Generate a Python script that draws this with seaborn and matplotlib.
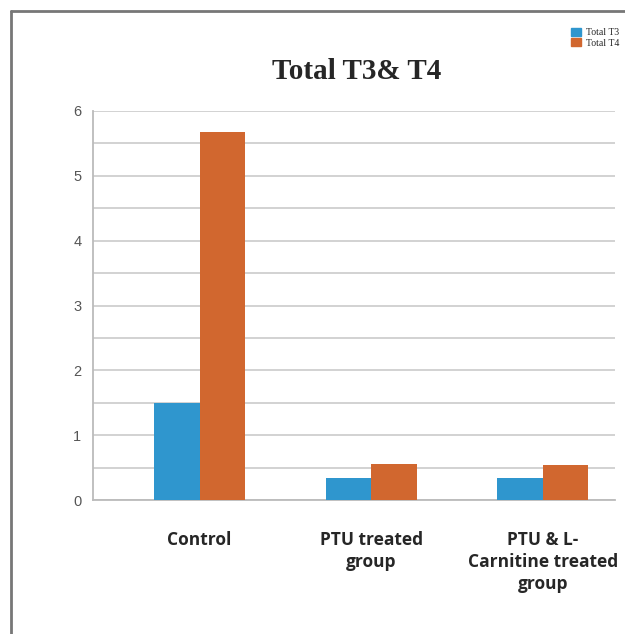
import matplotlib
matplotlib.use("Agg")
import matplotlib.pyplot as plt
import seaborn as sns
import pandas as pd
from matplotlib.lines import Line2D
from matplotlib.ticker import MultipleLocator

categories = ["Control", "PTU treated\ngroup", "PTU & L-\nCarnitine treated\ngroup"]
series_names = ["Total T3", "Total T4"]
total_t3 = [1.50, 0.34, 0.34]
total_t4 = [5.68, 0.56, 0.54]
colors = ["#2F96CE", "#D1672F"]

df = pd.DataFrame({
    "group": categories * 2,
    "series": [series_names[0]] * 3 + [series_names[1]] * 3,
    "value": total_t3 + total_t4,
})

sns.set_style("white")
fig = plt.figure(figsize=(6.25, 6.34), dpi=100)
ax = fig.add_axes([0.149, 0.211, 0.835, 0.614])

sns.barplot(data=df, x="group", y="value", hue="series", palette=colors,
            width=0.53, ax=ax, saturation=1, legend=False, zorder=3, linewidth=0)

ax.set_ylim(0, 6)
ax.set_xlim(-0.62, 2.42)
ax.yaxis.set_major_locator(MultipleLocator(1))
ax.yaxis.set_minor_locator(MultipleLocator(0.5))
ax.grid(axis="y", which="both", color="#CFCFCF", linewidth=1.3, zorder=0)
ax.set_axisbelow(True)
for s in ["top", "right"]:
    ax.spines[s].set_visible(False)
ax.spines["left"].set_color("#BBBBBB")
ax.spines["bottom"].set_color("#BBBBBB")
ax.spines["left"].set_linewidth(1.3)
ax.spines["bottom"].set_linewidth(1.3)
ax.tick_params(axis="y", which="both", length=5, color="#BBBBBB", labelcolor="#555555",
               labelsize=10.5, direction="out")
ax.tick_params(axis="x", length=0, pad=22)
ax.set_xlabel("")
ax.set_ylabel("")
for lab in ax.get_xticklabels():
    lab.set_fontfamily("Open Sans")
    lab.set_fontweight("bold")
    lab.set_fontsize(12.5)
    lab.set_verticalalignment("top")
    lab.set_linespacing(1.3)
for lab in ax.get_yticklabels():
    lab.set_fontfamily("Liberation Sans")

fig.text(0.57, 0.888, "Total T3& T4", ha="center", va="center",
         fontfamily="Liberation Serif", fontweight="bold", fontsize=21)

handles = [plt.Rectangle((0, 0), 1, 1, color=c) for c in colors]
leg = fig.legend(handles, series_names, loc="upper right", bbox_to_anchor=(1.0, 0.965),
                 frameon=False, prop={"family": "Liberation Serif", "size": 7},
                 handlelength=1.0, handleheight=0.9, handletextpad=0.5, labelspacing=0.1,
                 borderaxespad=0.2)

# figure frame lines (top and left)
fig.add_artist(Line2D([11/625, 1], [1 - 11/634, 1 - 11/634], transform=fig.transFigure,
                      color="#777777", linewidth=2))
fig.add_artist(Line2D([11/625, 11/625], [0, 1 - 11/634], transform=fig.transFigure,
                      color="#777777", linewidth=2))

fig.savefig("out.png", dpi=100, facecolor="white")
